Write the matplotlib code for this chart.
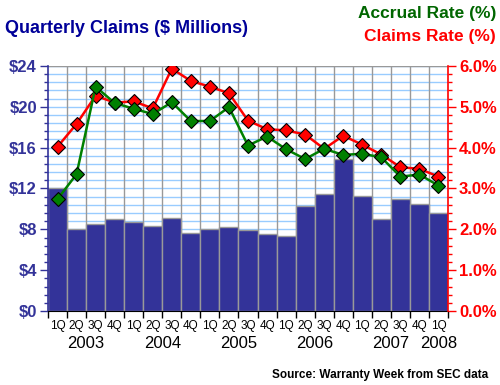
import numpy as np
import matplotlib.pyplot as plt
from matplotlib.ticker import MultipleLocator, FuncFormatter

plt.rcParams['font.family'] = ['Liberation Sans', 'DejaVu Sans']

# ------------------------------------------------------------
# Data
# ------------------------------------------------------------
quarters = ['1Q', '2Q', '3Q', '4Q'] * 5 + ['1Q']
years = ['2003', '2004', '2005', '2006', '2007', '2008']
claims_musd = [12.0, 8.0, 8.5, 9.0, 8.75, 8.3, 9.1, 7.6, 8.0, 8.2, 7.9,
               7.5, 7.3, 10.3, 11.5, 14.9, 11.3, 9.05, 10.95, 10.45, 9.6]
claims_rate = [4.02, 4.58, 5.27, 5.10, 5.13, 4.96, 5.93, 5.63, 5.49, 5.33, 4.66,
               4.45, 4.42, 4.32, 3.97, 4.29, 4.07, 3.83, 3.52, 3.48, 3.29]
accrual_rate = [2.74, 3.35, 5.49, 5.09, 4.95, 4.82, 5.11, 4.65, 4.65, 4.99, 4.05,
                4.27, 3.96, 3.72, 3.97, 3.82, 3.85, 3.76, 3.29, 3.34, 3.07]

NAVY = '#333399'
RED = '#ff0000'
GREEN = '#008000'

n = len(claims_musd)
x = np.arange(n)

fig = plt.figure(figsize=(5, 3.85), dpi=100)
ax = fig.add_axes([0.096, 0.192, 0.80, 0.637])
ax2 = ax.twinx()

# grid: light blue horizontals every 0.2% (0.8 $M), gray verticals at boundaries
for yv in np.arange(0.8, 24.01, 0.8):
    ax.axhline(yv, color='#99ccff', lw=1, zorder=0)
ax.axhline(24, color='#999999', lw=1, zorder=0.5)
for xv in np.arange(0.5, n - 0.5, 1):
    ax.axvline(xv, color='#999999', lw=1, zorder=0.5)

ax.bar(x, claims_musd, width=1.0, color=NAVY, edgecolor='#999999',
       linewidth=1, zorder=1)

ax.set_xlim(-0.5, n - 0.5)
ax.set_ylim(0, 24)
ax.yaxis.set_major_locator(MultipleLocator(4))
ax.yaxis.set_minor_locator(MultipleLocator(0.8))
ax.yaxis.set_major_formatter(FuncFormatter(lambda v, p: f'${v:.0f}'))
ax.tick_params(axis='y', which='major', direction='out', length=6, width=1,
               colors=NAVY, labelsize=12, pad=2)
ax.tick_params(axis='y', which='minor', direction='out', length=3, width=1, colors=NAVY)
for lab in ax.get_yticklabels():
    lab.set_fontweight('bold')

ax.set_xticks(np.arange(-0.5, n, 1))
ax.set_xticklabels([])
ax.tick_params(axis='x', direction='out', length=5, width=1, colors='black')

for i, q in enumerate(quarters):
    ax.text(i, -0.035, q, transform=ax.get_xaxis_transform(), ha='center',
            va='top', fontsize=8.5, color='black')
year_pos = [1.5, 5.5, 9.5, 13.5, 17.5, 20]
for xp, yr in zip(year_pos, years):
    ax.text(xp, -0.1, yr, transform=ax.get_xaxis_transform(), ha='center',
            va='top', fontsize=12, color='black')

ax.spines['left'].set_color(NAVY)
ax.spines['left'].set_linewidth(1.2)
ax.spines['bottom'].set_color('black')
ax.spines['top'].set_visible(False)
ax.spines['right'].set_visible(False)

# rate lines on the right axis
ax2.plot(x, claims_rate, color=RED, lw=1.8, marker='D', markersize=7,
         markerfacecolor=RED, markeredgecolor='black', markeredgewidth=0.8, zorder=3)
ax2.plot(x, accrual_rate, color=GREEN, lw=1.8, marker='D', markersize=7,
         markerfacecolor=GREEN, markeredgecolor='black', markeredgewidth=0.8, zorder=4)
ax2.set_ylim(0, 6)
ax2.yaxis.set_major_locator(MultipleLocator(1))
ax2.yaxis.set_minor_locator(MultipleLocator(0.2))
ax2.yaxis.set_major_formatter(FuncFormatter(lambda v, p: f'{v:.1f}%'))
ax2.tick_params(axis='y', which='major', direction='out', length=6, width=1,
                colors=RED, labelsize=12, pad=2)
ax2.tick_params(axis='y', which='minor', direction='out', length=3, width=1, colors=RED)
for lab in ax2.get_yticklabels():
    lab.set_fontweight('bold')
ax2.spines['right'].set_color(RED)
ax2.spines['right'].set_linewidth(1.2)
for s in ['left', 'top', 'bottom']:
    ax2.spines[s].set_visible(False)

# titles and notes
fig.text(0.01, 0.925, 'Quarterly Claims ($ Millions)', color='#000099',
         fontsize=13, fontweight='bold', ha='left', va='center')
fig.text(0.992, 0.965, 'Accrual Rate (%)', color='#006600',
         fontsize=12.5, fontweight='bold', ha='right', va='center')
fig.text(0.992, 0.905, 'Claims Rate (%)', color=RED,
         fontsize=12.5, fontweight='bold', ha='right', va='center')
fig.text(0.976, 0.025, 'Source: Warranty Week from SEC data', color='black',
         fontsize=8.5, fontweight='bold', ha='right', va='center')

plt.savefig('out.png', dpi=100)
